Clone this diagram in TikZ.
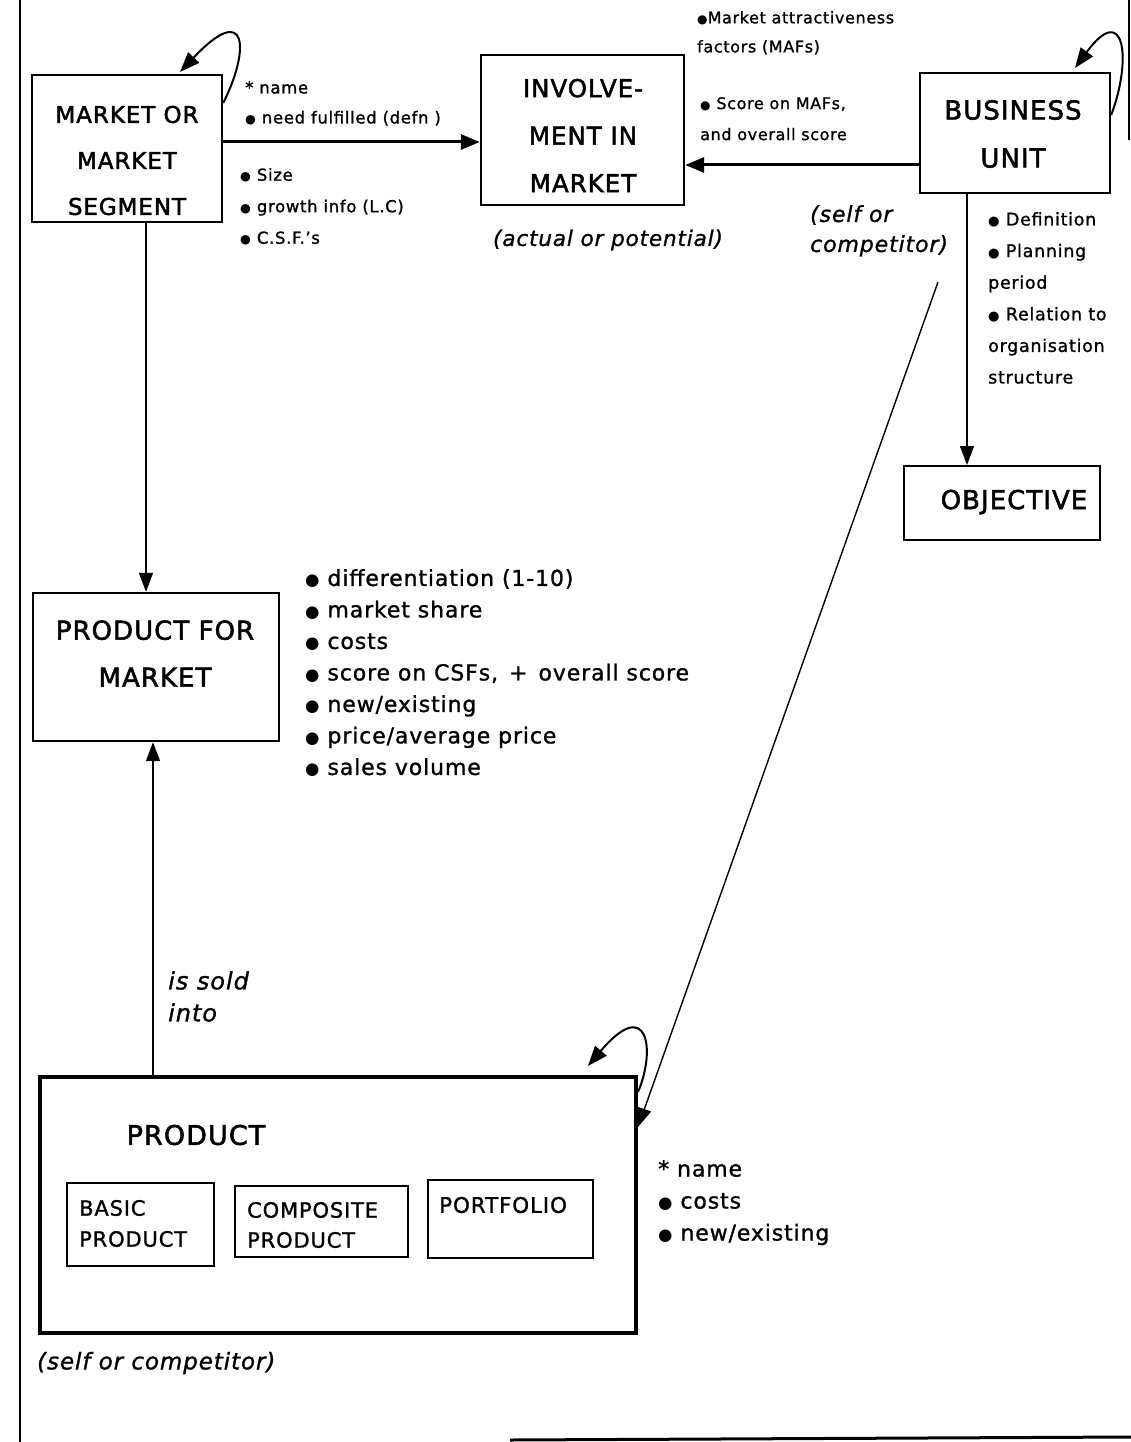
\documentclass[tikz,border=0pt]{standalone}
\usepackage{fontspec}
\setmainfont{DejaVu Sans}[LetterSpace=4, FakeBold=1.2]
\newfontfamily\titlefont{DejaVu Sans}[LetterSpace=4, FakeBold=2]
\newfontfamily\symfont{DejaVu Sans}
\usetikzlibrary{arrows.meta}
\newcommand\fsz[2]{\fontsize{#1}{#2}\selectfont}
\newcommand\bul{\scalebox{0.75}{\symfont ●}}
\begin{document}
\begin{tikzpicture}[x=1pt,y=-1pt,
  box/.style={draw, line width=2.4pt, inner sep=0pt},
  subbox/.style={draw, line width=2pt, inner sep=0pt},
  ttl/.style={inner sep=0pt, align=center},
  lbl/.style={inner sep=0pt, align=left, anchor=north west},
  sublbl/.style={inner sep=0pt, align=left, anchor=west},
  conn/.style={line width=1.4pt, -{Triangle[length=19pt,width=14pt]}},
  boldconn/.style={line width=3pt, -{Triangle[length=19pt,width=15pt]}},
  loopconn/.style={line width=2pt, -{Triangle[length=20pt,width=15pt]}},
  frame/.style={line width=1.5pt}]
\useasboundingbox (0,0) rectangle (1131,1442);
% page edge lines
\coordinate (fa) at (20,0); \coordinate (fb) at (20,1442);
\coordinate (fc) at (1129,0); \coordinate (fd) at (1129,140);
\coordinate (fe) at (510,1440); \coordinate (ff) at (1131,1437);
\draw[frame] (fa) -- (fb);
\draw[frame, line width=1.2pt] (fc) -- (fd);
\draw[frame, line width=3pt] (fe) -- (ff);

% boxes
\node[box, minimum width=190pt, minimum height=147pt] (mkt) at (127,148.5) {};
\node[box, minimum width=203pt, minimum height=150pt] (inv) at (582.5,130) {};
\node[box, minimum width=190pt, minimum height=120pt] (bu) at (1015,133) {};
\node[box, line width=2pt, minimum width=196pt, minimum height=74pt] (obj) at (1002,503) {};
\node[box, minimum width=246pt, minimum height=148pt] (pfm) at (156,667) {};
\node[box, line width=4pt, minimum width=596pt, minimum height=256pt] (prod) at (338,1205) {};
\node[subbox, minimum width=147pt, minimum height=83pt] (basic) at (140.5,1224.5) {};
\node[subbox, minimum width=173pt, minimum height=71pt] (comp) at (321.5,1221.5) {};
\node[subbox, minimum width=165pt, minimum height=78pt] (port) at (510.5,1219) {};

% box titles
\node[ttl, font=\titlefont\fsz{23}{46}] (mktT) at (127,160.5) {MARKET OR\\MARKET\\SEGMENT};
\node[ttl, font=\titlefont\fsz{24.5}{47.5}] (invT) at (583,135.5) {INVOLVE-\\MENT IN\\MARKET};
\node[ttl, font=\titlefont\fsz{26}{48}] (buT) at (1013,134) {BUSINESS\\UNIT};
\node[ttl, font=\titlefont\fsz{26}{26}] (objT) at (1014,502) {OBJECTIVE};
\node[ttl, font=\titlefont\fsz{26}{47}] (pfmT) at (155,653.5) {PRODUCT FOR\\MARKET};
\node[ttl, font=\titlefont\fsz{27}{27}] (prodT) at (196,1135) {PRODUCT};
\node[sublbl, font=\fsz{21}{31}] (basicT) at (79,1223.5) {BASIC\\PRODUCT};
\node[sublbl, font=\fsz{21}{30}] (compT) at (247,1225) {COMPOSITE\\PRODUCT};
\node[sublbl, font=\fsz{21.5}{21.5}] (portT) at (439,1205) {PORTFOLIO};

% labels
\node[lbl, font=\fsz{16.5}{30}] (nameL) at (245,81) {* name\\\bul\ need fulfilled (defn )};
\node[lbl, font=\fsz{16.5}{31.5}] (sizeL) at (240,168) {\bul\ Size\\\bul\ growth info (L.C)\\\bul\ C.S.F.'s};
\node[lbl, font=\fsz{16}{29}] (mafL) at (697,11) {\bul Market attractiveness\\factors (MAFs)};
\node[lbl, font=\fsz{16}{31}] (scoreL) at (700,97) {\bul\ Score on MAFs,\\and overall score};
\node[lbl, font=\fsz{17.5}{31.6}] (buL) at (988,212) {\bul\ Definition\\\bul\ Planning\\period\\\bul\ Relation to\\organisation\\structure};
\node[lbl, font=\fsz{22}{31.5}] (pfmL) at (305,569) {\bul\ differentiation (1-10)\\\bul\ market share\\\bul\ costs\\\bul\ score on CSFs,\enspace+\enspace overall score\\\bul\ new/existing\\\bul\ price/average price\\\bul\ sales volume};
\node[lbl, font=\fsz{22}{32}] (prodL) at (658,1160) {* name\\\bul\ costs\\\bul\ new/existing};
\node[lbl, font=\itshape\fsz{22}{30}] (selfL) at (810,205) {(self or\\competitor)};
\node[inner sep=0pt, font=\itshape\fsz{21.5}{21.5}] (actL) at (608,240) {(actual or potential)};
\node[lbl, font=\itshape\fsz{24}{32}] (soldL) at (168,971) {is sold\\into};
\node[inner sep=0pt, anchor=west, font=\itshape\fsz{23}{23}] (self2L) at (37,1363) {(self or competitor)};

% connectors
\draw[boldconn] (mkt.east |- 0,142) -- (inv.west |- 0,142);
\draw[boldconn] (bu.west |- 0,165) -- (inv.east |- 0,165);
\draw[conn] (bu.south -| 967,0) -- (obj.north -| 967,0);
\draw[conn] (mkt.south -| 146,0) -- (pfm.north -| 146,0);
\draw[conn] (prod.north -| 153,0) -- (pfm.south -| 153,0);
\coordinate (dstart) at (938,282);
\draw[conn] (dstart) -- (prod.east |- 0,1127);

% self loops
\coordinate (mktLoopEnd) at (180,72);
\draw[loopconn] (mkt.east |- 0,103) .. controls (250,50) and (248,0) .. (mktLoopEnd);
\coordinate (buLoopEnd) at (1075,68);
\draw[loopconn] (bu.east |- 0,115) .. controls (1132,60) and (1125,0) .. (buLoopEnd);
\coordinate (prodLoopEnd) at (588,1066);
\draw[loopconn] (prod.east |- 0,1092) .. controls (656,1050) and (648,995) .. (prodLoopEnd);
\end{tikzpicture}
\end{document}
